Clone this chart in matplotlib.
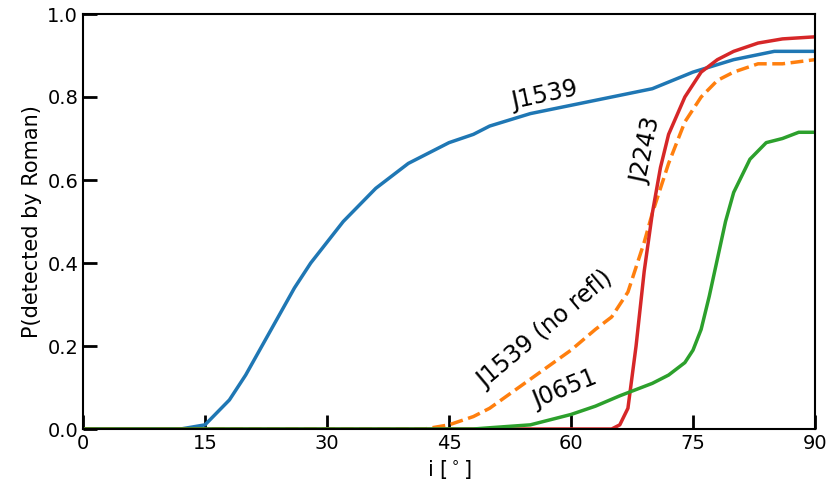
import matplotlib
matplotlib.use("Agg")
import matplotlib.pyplot as plt

blue_x = [0, 12, 15, 16, 18, 20, 22, 24, 26, 28, 30, 32, 34, 36, 38, 40, 42, 45, 48, 50, 55, 60, 65, 70, 75, 80, 85, 90]
blue_y = [0, 0, 0.01, 0.03, 0.07, 0.13, 0.2, 0.27, 0.34, 0.4, 0.45, 0.5, 0.54, 0.58, 0.61, 0.64, 0.66, 0.69, 0.71, 0.73, 0.76, 0.78, 0.80, 0.82, 0.86, 0.89, 0.91, 0.91]
orange_x = [0, 42, 45, 48, 50, 55, 60, 63, 65, 67, 69, 70, 72, 74, 76, 78, 80, 83, 86, 90]
orange_y = [0, 0, 0.01, 0.03, 0.05, 0.12, 0.19, 0.24, 0.27, 0.33, 0.45, 0.52, 0.64, 0.74, 0.8, 0.84, 0.86, 0.88, 0.88, 0.89]
red_x = [0, 65, 66, 67, 68, 69, 70, 71, 72, 74, 76, 78, 80, 83, 86, 90]
red_y = [0, 0, 0.01, 0.05, 0.2, 0.38, 0.52, 0.63, 0.71, 0.8, 0.86, 0.89, 0.91, 0.93, 0.94, 0.945]
green_x = [0, 48, 50, 55, 58, 60, 63, 66, 68, 70, 72, 74, 75, 76, 77, 78, 79, 80, 82, 84, 86, 88, 90]
green_y = [0, 0, 0.003, 0.01, 0.025, 0.035, 0.055, 0.08, 0.095, 0.11, 0.13, 0.16, 0.19, 0.24, 0.32, 0.41, 0.5, 0.57, 0.65, 0.69, 0.7, 0.715, 0.715]

fig = plt.figure(figsize=(8.3, 4.98), dpi=100)
ax = fig.add_axes([83/830, 1-429/498, (815-83)/830, (429-14)/498])
ax.plot(blue_x, blue_y, color="#1f77b4", lw=2.5)
ax.plot(orange_x, orange_y, color="#ff7f0e", lw=2.5, ls="--")
ax.plot(red_x, red_y, color="#d62728", lw=2.5)
ax.plot(green_x, green_y, color="#2ca02c", lw=2.5)
ax.set_xlim(0, 90)
ax.set_ylim(0, 1)
ax.set_xticks([0, 15, 30, 45, 60, 75, 90])
ax.set_yticks([0, 0.2, 0.4, 0.6, 0.8, 1.0])
ax.tick_params(direction="in", length=10, width=2, labelsize=14)
for s in ax.spines.values():
    s.set_linewidth(1.5)
ax.set_xlabel("i [$^\\circ$]", fontsize=15)
ax.set_ylabel("P(detected by Roman)", fontsize=15)
ax.text(56.8, 0.805, "J1539", fontsize=17, rotation=12, ha="center", va="center")
ax.text(69.3, 0.67, "J2243", fontsize=17, rotation=78, ha="center", va="center")
ax.text(56.8, 0.24, "J1539 (no refl)", fontsize=17, rotation=40, ha="center", va="center")
ax.text(59.3, 0.095, "J0651", fontsize=17, rotation=22, ha="center", va="center")
fig.savefig("out.png")
